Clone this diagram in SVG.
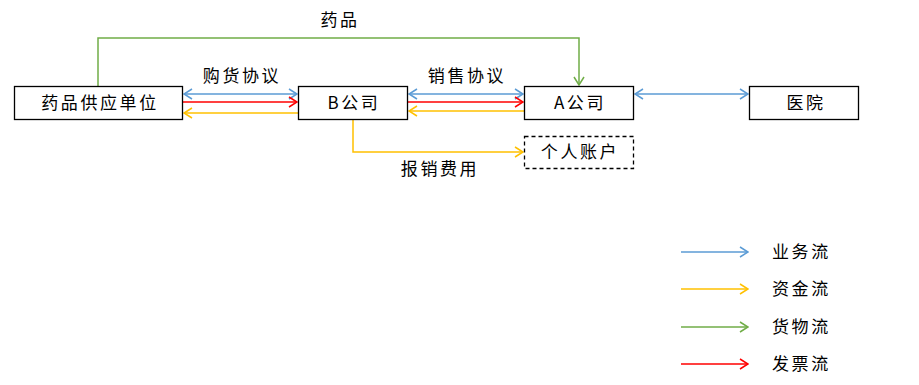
<svg xmlns="http://www.w3.org/2000/svg" width="919" height="385" viewBox="0 0 919 385">
<style>
.box{fill:#fff;stroke:#000;stroke-width:1.3}
.dash{fill:#fff;stroke:#000;stroke-width:1.3;stroke-dasharray:4,3}
text{font-family:"Noto Sans CJK SC","Liberation Sans",sans-serif;font-size:17px;fill:#000;letter-spacing:2.6px}
.c{text-anchor:middle}
.bl{stroke:#5B9BD5;stroke-width:1.5;fill:none}
.ye{stroke:#FFC000;stroke-width:1.5;fill:none}
.gr{stroke:#70AD47;stroke-width:1.5;fill:none}
.re{stroke:#FF0000;stroke-width:1.5;fill:none}
</style>
<defs>
<marker id="mb" viewBox="0 0 10 12" refX="9" refY="6" markerWidth="10" markerHeight="12" markerUnits="userSpaceOnUse" orient="auto-start-reverse"><path d="M1,1 L9,6 L1,11" fill="none" stroke="#5B9BD5" stroke-width="1.5"/></marker>
<marker id="my" viewBox="0 0 10 12" refX="9" refY="6" markerWidth="10" markerHeight="12" markerUnits="userSpaceOnUse" orient="auto-start-reverse"><path d="M1,1 L9,6 L1,11" fill="none" stroke="#FFC000" stroke-width="1.5"/></marker>
<marker id="mg" viewBox="0 0 10 12" refX="9" refY="6" markerWidth="10" markerHeight="12" markerUnits="userSpaceOnUse" orient="auto-start-reverse"><path d="M1,1 L9,6 L1,11" fill="none" stroke="#70AD47" stroke-width="1.5"/></marker>
<marker id="mr" viewBox="0 0 10 12" refX="9" refY="6" markerWidth="10" markerHeight="12" markerUnits="userSpaceOnUse" orient="auto-start-reverse"><path d="M1,1 L9,6 L1,11" fill="none" stroke="#FF0000" stroke-width="1.5"/></marker>
</defs>
<g id="connectors">
<path class="gr" d="M98,86 V38 H579 V85" marker-end="url(#mg)"/>
<path class="bl" d="M184,94 H297" marker-start="url(#mb)" marker-end="url(#mb)"/>
<path class="re" d="M183,102 H297" marker-end="url(#mr)"/>
<path class="ye" d="M298,113 H184" marker-end="url(#my)"/>
<path class="bl" d="M409,94 H523" marker-start="url(#mb)" marker-end="url(#mb)"/>
<path class="re" d="M408,102 H523" marker-end="url(#mr)"/>
<path class="ye" d="M524,111 H409" marker-end="url(#my)"/>
<path class="bl" d="M635,94 H748" marker-start="url(#mb)" marker-end="url(#mb)"/>
<path class="ye" d="M353,119 V152 H523" marker-end="url(#my)"/>
</g>
<g id="supplier"><rect class="box" x="14.5" y="86.5" width="168" height="33"/><text class="c" x="100" y="109">药品供应单位</text></g>
<g id="companyB"><rect class="box" x="298.5" y="86.5" width="109" height="33"/><text class="c" x="354" y="109">B公司</text></g>
<g id="companyA"><rect class="box" x="524.5" y="86.5" width="109" height="33"/><text class="c" x="580" y="109">A公司</text></g>
<g id="hospital"><rect class="box" x="749.5" y="86.5" width="109" height="33"/><text class="c" x="806" y="109">医院</text></g>
<g id="account"><rect class="dash" x="524.5" y="136.5" width="109" height="32"/><text class="c" x="580" y="158">个人账户</text></g>
<g id="labels">
<text class="c" x="340" y="26">药品</text>
<text class="c" x="242" y="82">购货协议</text>
<text class="c" x="467" y="82">销售协议</text>
<text class="c" x="440" y="175">报销费用</text>
</g>
<g id="legend">
<path class="bl" d="M681,252 H748" marker-end="url(#mb)"/>
<path class="ye" d="M681,289 H748" marker-end="url(#my)"/>
<path class="gr" d="M681,327 H748" marker-end="url(#mg)"/>
<path class="re" d="M681,364 H748" marker-end="url(#mr)"/>
<text x="772" y="258">业务流</text>
<text x="772" y="295">资金流</text>
<text x="772" y="333">货物流</text>
<text x="772" y="370">发票流</text>
</g>
</svg>
